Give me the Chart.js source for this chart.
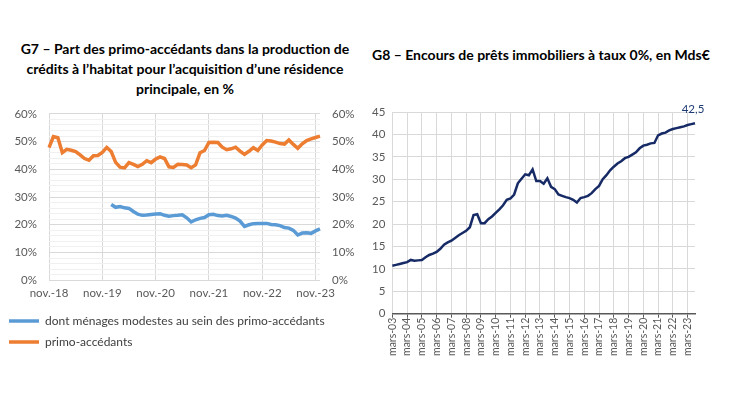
<!DOCTYPE html>
<html>
<head>
<meta charset="utf-8">
<script src="https://cdn.jsdelivr.net/npm/chart.js@4"></script>
<style>
  body { margin: 0; background: #fff; width: 730px; height: 410px; position: relative; overflow: hidden; font-family: Lato, "Open Sans", sans-serif; }
  .titre { position: absolute; font-weight: bold; font-size: 14px; color: #000; line-height: 20px; }
  #t7 { left: 5px; top: 39px; width: 360px; text-align: center; }
  #t8 { left: 372px; top: 45px; }
  #box7 { position: absolute; left: 0; top: 95px; width: 358px; height: 263px; }
  #box8 { position: absolute; left: 360px; top: 85px; width: 370px; height: 271px; }
</style>
</head>
<body>
<div class="titre" id="t7">G7 – Part des primo-accédants dans la production de crédits à l’habitat pour l’acquisition d’une résidence principale, en %</div>
<div class="titre" id="t8">G8 – Encours de prêts immobiliers à taux 0%, en Mds€</div>
<div id="box7"><canvas id="g7"></canvas></div>
<div id="box8"><canvas id="g8"></canvas></div>

<script>
// Données G7 : mensuel, nov.-18 à déc.-23
const moisNoms = ['janv.', 'févr.', 'mars', 'avr.', 'mai', 'juin', 'juil.', 'août', 'sept.', 'oct.', 'nov.', 'déc.'];
const moisG7 = [];
for (let i = 0; i < 62; i++) {
    const m = (10 + i) % 12;
    const a = 18 + Math.floor((10 + i) / 12);
    moisG7.push(moisNoms[m] + '-' + a);
}
const primoAccedants = [
    47.8, 51.8, 51.4, 46.0, 47.2, 46.9, 46.4, 45.2, 43.9, 43.3, 44.9, 45.0,
    46.1, 47.9, 46.4, 42.5, 40.8, 40.5, 42.4, 41.8, 41.0, 41.8, 43.1, 42.4,
    43.7, 44.5, 43.9, 40.9, 40.7, 41.8, 41.7, 41.6, 40.6, 41.6, 46.0, 46.8,
    49.7, 49.8, 49.7, 48.0, 47.1, 47.4, 48.0, 46.6, 45.4, 46.5, 47.8, 46.8,
    48.8, 50.4, 50.2, 49.8, 49.3, 49.1, 50.6, 49.0, 47.6, 49.2, 50.4, 51.0,
    51.5, 52.0
];
const menagesModestes = [
    null, null, null, null, null, null, null, null, null, null, null, null,
    null, null, 27.3, 26.3, 26.6, 26.1, 25.9, 24.8, 23.8, 23.4, 23.5, 23.7,
    23.9, 24.0, 23.4, 23.1, 23.3, 23.4, 23.6, 22.5, 21.0, 21.8, 22.3, 22.6,
    23.6, 23.8, 23.3, 23.2, 23.4, 23.0, 22.4, 21.3, 19.4, 20.0, 20.4, 20.5,
    20.5, 20.5, 20.1, 20.0, 19.7, 19.0, 18.8, 18.0, 16.3, 17.0, 17.1, 16.9,
    17.8, 18.5
];

// Données G8 : trimestriel, mars-03 à sept.-23, en Mds€
const trimNoms = ['mars', 'juin', 'sept.', 'déc.'];
const trimG8 = [];
for (let i = 0; i < 83; i++) {
    const a = 3 + Math.floor(i / 4);
    trimG8.push(trimNoms[i % 4] + '-' + String(a).padStart(2, '0'));
}
const encoursPTZ = [
    10.7, 10.9, 11.1, 11.3, 11.5, 12.0, 11.8, 11.9, 12.0, 12.6, 13.1, 13.4,
    13.8, 14.5, 15.4, 15.9, 16.3, 16.9, 17.5, 18.0, 18.5, 19.3, 22.0, 22.2,
    20.2, 20.2, 21.1, 21.7, 22.5, 23.3, 24.2, 25.4, 25.7, 26.6, 29.1, 30.1,
    31.1, 30.9, 32.2, 29.6, 29.6, 29.0, 30.2, 28.3, 27.8, 26.6, 26.3, 26.0,
    25.8, 25.4, 24.8, 25.8, 26.0, 26.3, 26.9, 27.8, 28.5, 30.0, 30.9, 32.0,
    32.8, 33.5, 34.0, 34.7, 35.0, 35.5, 36.0, 36.9, 37.5, 37.7, 38.0, 38.1,
    39.8, 40.2, 40.4, 40.9, 41.2, 41.4, 41.6, 41.8, 42.1, 42.3, 42.5
];

const grisTexte = '#595959';
const police = { family: 'Lato, "Open Sans", sans-serif', size: 11.5 };

// G7
new Chart(document.getElementById('g7'), {
    type: 'line',
    data: {
        labels: moisG7,
        datasets: [{
            label: 'dont ménages modestes au sein des primo-accédants',
            data: menagesModestes,
            borderColor: '#5B9BD5',
            backgroundColor: '#5B9BD5',
            borderWidth: 3.5,
            pointRadius: 0,
            yAxisID: 'y'
        }, {
            label: 'primo-accédants',
            data: primoAccedants,
            borderColor: '#ED7D31',
            backgroundColor: '#ED7D31',
            borderWidth: 3.5,
            pointRadius: 0,
            yAxisID: 'y1'
        }]
    },
    options: {
        responsive: true,
        maintainAspectRatio: false,
        animation: false,
        layout: { padding: { left: 0, right: 0, top: 2, bottom: 0 } },
        plugins: {
            legend: {
                position: 'bottom',
                align: 'start',
                labels: {
                    color: '#404040',
                    font: { family: police.family, size: 12 },
                    usePointStyle: true,
                    pointStyle: 'line',
                    pointStyleWidth: 30,
                    boxHeight: 3,
                    padding: 9
                }
            },
            tooltip: { enabled: false }
        },
        scales: {
            x: {
                grid: {
                    color: (ctx) => ctx.index % 12 === 0 ? '#d9d9d9' : 'rgba(0,0,0,0)',
                    drawTicks: false
                },
                border: { display: false },
                ticks: {
                    autoSkip: false,
                    maxRotation: 0,
                    padding: 6,
                    color: grisTexte,
                    font: police,
                    callback: function (v, i) { return i % 12 === 0 ? this.getLabelForValue(v) : ''; }
                }
            },
            y: {
                min: 0, max: 60,
                afterFit: (s) => { s.width = 49; },
                grid: {
                    color: (ctx) => ctx.tick.value % 10 === 0 ? '#d9d9d9' : '#f0f0f0',
                    drawTicks: false
                },
                border: { display: false },
                ticks: {
                    stepSize: 2,
                    autoSkip: false,
                    padding: 12,
                    color: grisTexte,
                    font: police,
                    callback: (v) => v % 10 === 0 ? v + '%' : ''
                }
            },
            y1: {
                position: 'right',
                min: 0, max: 60,
                afterFit: (s) => { s.width = 38; },
                grid: { display: false, drawTicks: false },
                border: { display: false },
                ticks: {
                    stepSize: 2,
                    autoSkip: false,
                    padding: 12,
                    color: grisTexte,
                    font: police,
                    callback: (v) => v % 10 === 0 ? v + '%' : ''
                }
            }
        }
    }
});

// étiquette de la dernière valeur
const derniereValeur = {
    id: 'derniereValeur',
    afterDatasetsDraw(chart) {
        const meta = chart.getDatasetMeta(0);
        const pt = meta.data[meta.data.length - 1];
        const ctx = chart.ctx;
        ctx.save();
        ctx.fillStyle = '#1F3B73';
        ctx.font = '11.5px Lato, "Open Sans", sans-serif';
        ctx.textAlign = 'center';
        ctx.textBaseline = 'bottom';
        ctx.fillText(String(encoursPTZ[encoursPTZ.length - 1]).replace('.', ','), pt.x - 2, pt.y - 8);
        ctx.restore();
    }
};

// G8
new Chart(document.getElementById('g8'), {
    type: 'line',
    data: {
        labels: trimG8,
        datasets: [{
            label: 'Encours PTZ',
            data: encoursPTZ,
            borderColor: '#162A66',
            borderWidth: 2.5,
            pointRadius: 0,
            tension: 0
        }]
    },
    plugins: [derniereValeur],
    options: {
        responsive: true,
        maintainAspectRatio: false,
        animation: false,
        layout: { padding: { left: 5, right: 35, top: 27, bottom: 0 } },
        plugins: {
            legend: { display: false },
            tooltip: { enabled: false }
        },
        scales: {
            x: {
                grid: {
                    color: (ctx) => ctx.index % 4 === 0 ? '#d9d9d9' : 'rgba(0,0,0,0)',
                    tickColor: (ctx) => ctx.index % 4 === 0 ? '#595959' : 'rgba(0,0,0,0)',
                    tickLength: 4
                },
                border: { color: '#595959', width: 1.5 },
                ticks: {
                    autoSkip: false,
                    minRotation: 90,
                    maxRotation: 90,
                    padding: 0,
                    color: grisTexte,
                    font: { family: police.family, size: 10.5 },
                    callback: function (v, i) { return i % 4 === 0 ? this.getLabelForValue(v) : ''; }
                }
            },
            y: {
                min: 0, max: 45,
                grid: { color: '#d9d9d9', drawTicks: false },
                border: { display: false },
                ticks: {
                    stepSize: 5,
                    padding: 7,
                    color: grisTexte,
                    font: police
                }
            }
        }
    }
});
</script>
</body>
</html>
